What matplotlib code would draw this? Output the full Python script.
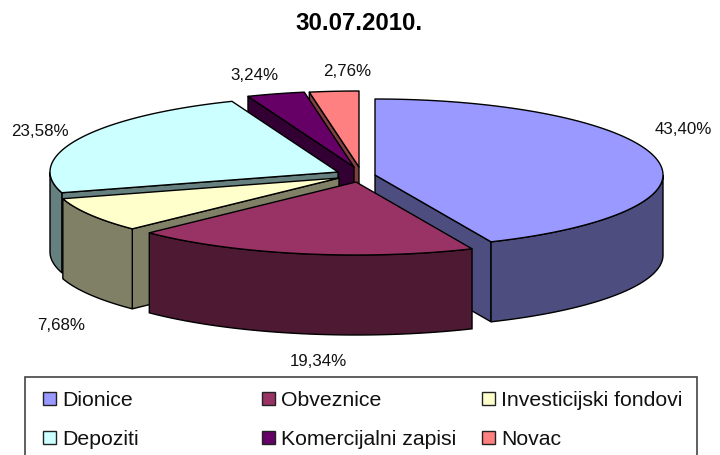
import numpy as np
import matplotlib
matplotlib.use('Agg')
import matplotlib.pyplot as plt
from matplotlib.patches import Polygon, Rectangle

plt.rcParams['font.family'] = ['Liberation Sans', 'DejaVu Sans']

title = "30.07.2010."
labels = ["Dionice", "Obveznice", "Investicijski fondovi", "Depoziti", "Komercijalni zapisi", "Novac"]
values = [43.40, 19.34, 7.68, 23.58, 3.24, 2.76]
colors = ["#9999FF", "#993366", "#FFFFCC", "#CCFFFF", "#660066", "#FF8080"]
side_colors = ["#4D4D80", "#4D1933", "#808066", "#668080", "#330033", "#804040"]

# exploded apex of every slice, in pixels
apex_x = [375, 356, 339, 338, 354, 359]
apex_y = [175, 182, 178, 172, 167, 167]
label_x = [683, 318, 61, 40, 254, 347]
label_y = [130, 362, 325, 132, 76, 71]

RX = 288
RY_BACK = 76
RY_FRONT = 73
DEPTH = 80


def arc(cx, cy, t0, t1):
    t = np.radians(np.linspace(t0, t1, 120))
    ry = np.where(np.sin(t) > 0, RY_BACK, RY_FRONT)
    return np.column_stack([cx + RX * np.cos(t), cy - ry * np.sin(t)])


fig = plt.figure(figsize=(7.2, 4.55), dpi=100)
ax = fig.add_axes([0, 0, 1, 1])
ax.set_xlim(0, 720)
ax.set_ylim(455, 0)
ax.axis('off')

# slices run clockwise from 12 o'clock
ends = 90 - np.cumsum(values) * 3.6
starts = np.concatenate([[90], ends[:-1]])

# back to front
for i in [5, 4, 3, 2, 0, 1]:
    cx, cy = apex_x[i], apex_y[i]
    top = arc(cx, cy, starts[i], ends[i])
    down = np.array([0, DEPTH])

    # radial walls, only those facing the viewer
    if np.cos(np.radians(starts[i])) < -1e-6:
        wall = [top[0], (cx, cy), (cx, cy + DEPTH), top[0] + down]
        ax.add_patch(Polygon(wall, fc=side_colors[i], ec='black', lw=1, joinstyle='round'))
    if np.cos(np.radians(ends[i])) > 1e-6:
        wall = [top[-1], (cx, cy), (cx, cy + DEPTH), top[-1] + down]
        ax.add_patch(Polygon(wall, fc=side_colors[i], ec='black', lw=1, joinstyle='round'))

    # outer wall, only the front part of the rim
    w0 = min(starts[i], 0)
    w1 = max(ends[i], -180)
    if w0 > w1:
        rim = arc(cx, cy, w0, w1)
        ax.add_patch(Polygon(np.vstack([rim, rim[::-1] + down]), fc=side_colors[i], ec='black', lw=1))

    ax.add_patch(Polygon(np.vstack([[(cx, cy)], top]), fc=colors[i], ec='black', lw=1, joinstyle='round'))

for i, v in enumerate(values):
    ax.text(label_x[i], label_y[i], f"{v:.2f}%".replace('.', ','), fontsize=12.2, color='#111111',
            ha='center', va='center')

ax.text(359, 24, title, fontsize=17.3, fontweight='bold', ha='center', va='center')

# legend
ax.add_patch(Rectangle((25, 377), 672, 90, fc='white', ec='#444444', lw=1.2))
leg_x = [43, 262, 482, 43, 262, 482]
leg_y = [399, 399, 399, 438, 438, 438]
for i, name in enumerate(labels):
    ax.add_patch(Rectangle((leg_x[i], leg_y[i] - 7), 13, 13, fc=colors[i], ec='#222222', lw=1))
    ax.text(leg_x[i] + 19, leg_y[i] + 1.5, name, fontsize=15.3, color='#111111', ha='left', va='center')

fig.savefig("out.png", dpi=100)
